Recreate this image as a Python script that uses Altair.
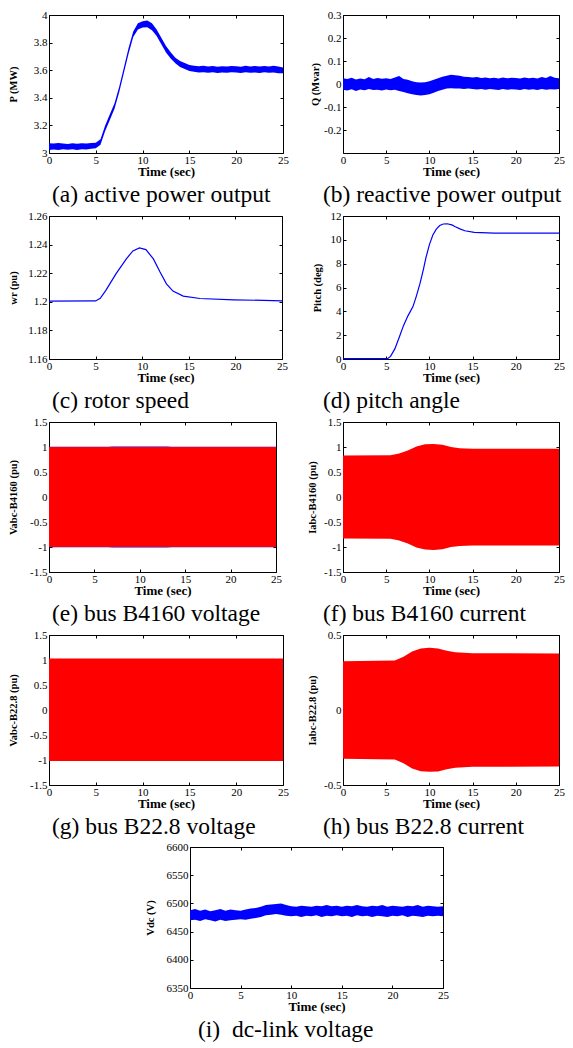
import altair as alt
import pandas as pd

FONT = "Liberation Serif"
BLUE = "#0000ff"
RED = "#ff0000"
TICK = 3

X_TICKS = [0, 5, 10, 15, 20, 25]

# common half-second time grid (sec)
T_HALF = [0, 0.5, 1, 1.5, 2, 2.5, 3, 3.5, 4, 4.5,
          5, 5.5, 6, 6.5, 7, 7.5, 8, 8.5, 9, 9.5,
          10, 10.5, 11, 11.5, 12, 12.5, 13, 13.5, 14, 14.5,
          15, 15.5, 16, 16.5, 17, 17.5, 18, 18.5, 19, 19.5,
          20, 20.5, 21, 21.5, 22, 22.5, 23, 23.5, 24, 24.5, 25]

# (a) active power P (MW): noisy band, upper / lower envelope
P_HI = [3.07, 3.068, 3.072, 3.069, 3.066, 3.071, 3.067, 3.07, 3.068, 3.073,
        3.075, 3.1, 3.2, 3.28, 3.36, 3.48, 3.62, 3.76, 3.88, 3.94,
        3.955, 3.96, 3.94, 3.895, 3.835, 3.775, 3.73, 3.69, 3.667, 3.652,
        3.638, 3.632, 3.628, 3.632, 3.626, 3.63, 3.625, 3.629, 3.627, 3.631,
        3.628, 3.625, 3.632, 3.626, 3.63, 3.626, 3.631, 3.627, 3.632, 3.626, 3.62]
P_LO = [3.022, 3.026, 3.021, 3.028, 3.024, 3.027, 3.022, 3.027, 3.026, 3.03,
        3.035, 3.06, 3.16, 3.24, 3.32, 3.44, 3.58, 3.72, 3.84, 3.895,
        3.91, 3.912, 3.89, 3.848, 3.788, 3.728, 3.684, 3.65, 3.624, 3.608,
        3.594, 3.588, 3.583, 3.586, 3.582, 3.585, 3.58, 3.584, 3.582, 3.585,
        3.583, 3.58, 3.585, 3.582, 3.584, 3.58, 3.585, 3.582, 3.584, 3.578, 3.578]

# (b) reactive power Q (Mvar)
Q_HI = [0.025, 0.022, 0.027, 0.02, 0.024, 0.021, 0.03, 0.022, 0.026, 0.023,
        0.025, 0.022, 0.028, 0.035, 0.022, 0.018, 0.012, 0.008, 0.006, 0.008,
        0.012, 0.018, 0.025, 0.032, 0.036, 0.04, 0.038, 0.036, 0.032, 0.03,
        0.028, 0.03, 0.026, 0.028, 0.025, 0.027, 0.024, 0.028, 0.025, 0.027,
        0.026, 0.024, 0.028, 0.025, 0.027, 0.024, 0.03, 0.026, 0.035, 0.027, 0.025]
Q_LO = [-0.025, -0.028, -0.023, -0.03, -0.024, -0.027, -0.022, -0.026, -0.025, -0.028,
        -0.024, -0.027, -0.025, -0.03, -0.035, -0.04, -0.045, -0.048, -0.05, -0.048,
        -0.045, -0.038, -0.03, -0.025, -0.02, -0.018, -0.02, -0.02, -0.022, -0.02,
        -0.022, -0.024, -0.022, -0.025, -0.022, -0.024, -0.026, -0.022, -0.025, -0.023,
        -0.024, -0.026, -0.022, -0.025, -0.023, -0.026, -0.022, -0.025, -0.023, -0.024, -0.022]

# (c) rotor speed wr (pu)
WR_T = [0, 5, 5.5, 6.1, 7.2, 8.3, 9.0, 9.7, 10.4, 11.2, 11.9, 12.6, 13.3, 14.4, 16.2, 19.8, 25]
WR = [1.2005, 1.2006, 1.2025, 1.208, 1.2197, 1.230, 1.2356, 1.2377, 1.2365, 1.230,
      1.221, 1.2126, 1.2075, 1.204, 1.2023, 1.2014, 1.2007]

# (d) pitch angle (deg)
PITCH_T = [0, 5.15, 5.5, 6.0, 6.5, 7.0, 7.5, 8.1, 8.5, 8.9, 9.3, 9.6, 10.0, 10.4, 10.8,
           11.2, 11.6, 12.05, 12.6, 13.0, 13.6, 14.1, 15.2, 17.5, 25]
PITCH = [0.03, 0.03, 0.22, 0.85, 1.8, 2.8, 3.6, 4.4, 5.3, 6.3, 7.5, 8.5, 9.6, 10.4, 10.9,
         11.2, 11.33, 11.35, 11.25, 11.1, 10.9, 10.76, 10.62, 10.57, 10.57]

# (e) bus B4160 voltage envelope (pu)
VE_T = [0, 25]
VE_HI = [1.0, 1.0]
VE_LO = [-1.0, -1.0]
VE_EDGE_T = [0, 6.5, 7, 13, 13.5, 25]
VE_EDGE_HI = [1.004, 1.004, 1.012, 1.012, 1.004, 1.004]
VE_EDGE_LO = [-1.004, -1.004, -1.012, -1.012, -1.004, -1.004]

# (f) bus B4160 current envelope (pu)
IF_T = [0, 5.5, 6.5, 7.5, 8.5, 9.5, 10.5, 11.5, 12.5, 13.5, 15, 25]
IF_HI = [0.83, 0.835, 0.87, 0.93, 1.01, 1.055, 1.06, 1.045, 1.0, 0.975, 0.967, 0.965]
IF_LO = [-0.83, -0.835, -0.87, -0.93, -1.01, -1.05, -1.06, -1.045, -1.0, -0.98, -0.97, -0.97]

# (g) bus B22.8 voltage envelope (pu)
VG_T = [0, 25]
VG_HI = [1.03, 1.03]
VG_LO = [-1.02, -1.02]

# (h) bus B22.8 current envelope (pu)
IH_T = [0, 6, 7, 8, 9, 10, 11, 12, 13, 15, 25]
IH_HI = [0.325, 0.33, 0.355, 0.39, 0.41, 0.415, 0.41, 0.395, 0.385, 0.378, 0.377]
IH_LO = [-0.325, -0.33, -0.355, -0.39, -0.408, -0.412, -0.41, -0.395, -0.385, -0.378, -0.377]

# (i) dc-link voltage (V)
V_HI = [6488, 6490, 6487, 6489, 6486, 6488, 6490, 6487, 6489, 6488,
        6487, 6489, 6491, 6492, 6494, 6497, 6498, 6499, 6500, 6497,
        6495, 6494, 6496, 6495, 6494, 6496, 6495, 6497, 6495, 6496,
        6494, 6496, 6495, 6497, 6495, 6494, 6496, 6495, 6497, 6494,
        6496, 6495, 6494, 6496, 6495, 6497, 6494, 6496, 6495, 6494, 6495]
V_LO = [6470, 6471, 6469, 6472, 6470, 6468, 6471, 6469, 6470, 6471,
        6472, 6471, 6473, 6474, 6476, 6479, 6480, 6481, 6480, 6478,
        6477, 6478, 6476, 6478, 6477, 6479, 6476, 6478, 6477, 6479,
        6477, 6478, 6476, 6479, 6477, 6478, 6476, 6478, 6477, 6476,
        6478, 6477, 6479, 6476, 6478, 6477, 6476, 6478, 6477, 6478, 6477]

Y_A = [3, 3.2, 3.4, 3.6, 3.8, 4]
Y_B = [-0.2, -0.1, 0, 0.1, 0.2, 0.3]
Y_C = [1.16, 1.18, 1.2, 1.22, 1.24, 1.26]
Y_D = [0, 2, 4, 6, 8, 10, 12]
Y_E = [-1.5, -1, -0.5, 0, 0.5, 1, 1.5]
Y_H = [-0.5, 0, 0.5]
Y_I = [6350, 6400, 6450, 6500, 6550, 6600]

CAPTIONS = ["(a) active power output", "(b) reactive power output",
            "(c) rotor speed", "(d) pitch angle",
            "(e) bus B4160 voltage", "(f) bus B4160 current",
            "(g) bus B22.8 voltage", "(h) bus B22.8 current",
            "(i)\u00a0 dc-link voltage"]

XSC = alt.Scale(domain=[0, 25], nice=False, zero=False)

AX = dict(labelFont=FONT, labelFontSize=11, labelColor="black",
          titleColor="black", tickColor="black", tickSize=TICK, tickWidth=1,
          offset=-TICK, domain=False, grid=False, labelOverlap=False, labelFlush=False)


def ysc(dom):
    return alt.Scale(domain=dom, nice=False, zero=False)


def x_axis():
    return alt.Axis(orient="bottom", values=X_TICKS, title="Time (sec)", labelPadding=1,
                    titlePadding=0, titleFont=FONT, titleFontSize=13, titleFontWeight="bold",
                    labelExpr="datum.value + ''", **AX)


def y_axis(yvals, ytitle, tpad):
    return alt.Axis(orient="left", values=yvals, title=ytitle, labelPadding=2,
                    titlePadding=tpad, titleFont=FONT, titleFontSize=10.5, titleFontWeight="bold",
                    labelExpr="datum.value + ''", **AX)


def band_layer(t, lo, hi, color, dom, yvals=None, ytitle=None, tpad=9):
    df = pd.DataFrame({"t": t, "lo": lo, "hi": hi})
    if ytitle is not None:
        xa = x_axis()
        ya = y_axis(yvals, ytitle, tpad)
    else:
        xa = None
        ya = None
    return alt.Chart(df).mark_area(color=color, opacity=1).encode(
        x=alt.X("t:Q", scale=XSC, axis=xa),
        y=alt.Y("lo:Q", scale=ysc(dom), axis=ya),
        y2="hi:Q",
    )


def line_layer(t, v, color, dom, yvals, ytitle, tpad=9):
    df = pd.DataFrame({"t": t, "v": v})
    return alt.Chart(df).mark_line(color=color, strokeWidth=1.2).encode(
        x=alt.X("t:Q", scale=XSC, axis=x_axis()),
        y=alt.Y("v:Q", scale=ysc(dom), axis=y_axis(yvals, ytitle, tpad)),
    )


def frame_ticks(dom, yvals):
    df = pd.DataFrame({"t": [0, 25], "v": dom})
    xa = alt.Axis(orient="top", values=X_TICKS, labels=False, title=None, **AX)
    ya = alt.Axis(orient="right", values=yvals, labels=False, title=None, **AX)
    return alt.Chart(df).mark_point(opacity=0).encode(
        x=alt.X("t:Q", scale=XSC, axis=xa),
        y=alt.Y("v:Q", scale=ysc(dom), axis=ya),
    )


def panel(layers, dom, yvals, caption, w, h, dx):
    return alt.layer(*layers, frame_ticks(dom, yvals)).resolve_axis(
        x="independent", y="independent"
    ).properties(
        width=w, height=h,
        title=alt.TitleParams(text=caption, orient="bottom", anchor="start", frame="group",
                              font=FONT, fontSize=23.5, fontWeight="normal", color="black",
                              offset=5, dx=dx),
    )


LDX = 3
RDX = -20

dA = [3, 4]
pa = panel([band_layer(T_HALF, P_LO, P_HI, BLUE, dA, Y_A, "P (MW)", 14.5)],
           dA, Y_A, CAPTIONS[0], 234, 138, LDX)
dB = [-0.3, 0.3]
pb = panel([band_layer(T_HALF, Q_LO, Q_HI, BLUE, dB, Y_B, "Q (Mvar)", 3.5)],
           dB, Y_B, CAPTIONS[1], 216, 138, RDX)
dC = [1.16, 1.26]
pc = panel([line_layer(WR_T, WR, BLUE, dC, Y_C, "wr (pu)", 9)],
           dC, Y_C, CAPTIONS[2], 233, 143, LDX)
dD = [0, 12]
pd_ = panel([line_layer(PITCH_T, PITCH, BLUE, dD, Y_D, "Pitch (deg)", 7.5)],
            dD, Y_D, CAPTIONS[3], 216, 143, RDX)
dE = [-1.5, 1.5]
pe = panel([band_layer(VE_EDGE_T, VE_EDGE_LO, VE_EDGE_HI, BLUE, dE, Y_E, "Vabc-B4160 (pu)", 11),
            band_layer(VE_T, VE_LO, VE_HI, RED, dE)],
           dE, Y_E, CAPTIONS[4], 227, 150, LDX)
pf = panel([band_layer(IF_T, IF_LO, IF_HI, RED, dE, Y_E, "Iabc-B4160 (pu)", 6.5)],
           dE, Y_E, CAPTIONS[5], 216, 150, RDX)
pg = panel([band_layer(VG_T, VG_LO, VG_HI, RED, dE, Y_E, "Vabc-B22.8 (pu)", 11)],
           dE, Y_E, CAPTIONS[6], 234, 150, LDX)
dH = [-0.5, 0.5]
ph = panel([band_layer(IH_T, IH_LO, IH_HI, RED, dH, Y_H, "Iabc-B22.8 (pu)", 6.5)],
           dH, Y_H, CAPTIONS[7], 216, 150, RDX)
dI = [6350, 6600]
pi = panel([band_layer(T_HALF, V_LO, V_HI, BLUE, dI, Y_I, "Vdc (V)", 10.5)],
           dI, Y_I, CAPTIONS[8], 253, 141, 8)

grid = alt.concat(
    pa, pb, pc, pd_, pe, pf, pg, ph,
    columns=2, spacing={"row": 63, "column": 60}, bounds="flush", align="each",
)

spacer = alt.Chart(pd.DataFrame({"t": [0]})).mark_point(opacity=0).encode(
    x=alt.X("t:Q", axis=None), y=alt.Y("t:Q", axis=None)
).properties(width=95, height=1, view=alt.ViewBackground(stroke="transparent"))

bottom = alt.hconcat(spacer, pi, spacing=0)

chart = alt.vconcat(grid, bottom, spacing=1).properties(
    padding=0, background="white"
).configure_view(stroke="black", strokeWidth=1)

chart.save("out.html", embed_options={"renderer": "svg", "actions": False})
